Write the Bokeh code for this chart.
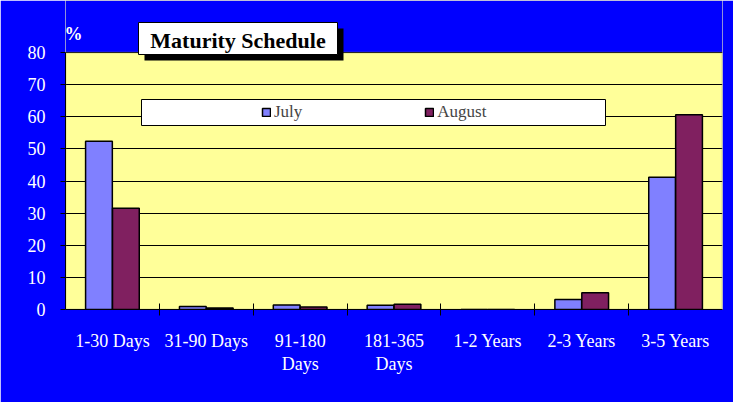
from bokeh.plotting import figure
from bokeh.models import (FactorRange, Range1d, CategoricalAxis, BoxAnnotation,
                          Label, Legend, LegendItem, ColumnDataSource, FixedTicker)
from bokeh.transform import dodge
from bokeh.embed import file_html
from bokeh.resources import INLINE

# ---- data ----
categories = ["1-30 Days", "31-90 Days", "91-180\nDays", "181-365\nDays",
              "1-2 Years", "2-3 Years", "3-5 Years"]
july = [52.4, 0.9, 1.4, 1.3, 0.0, 3.1, 41.2]
august = [31.5, 0.5, 0.8, 1.6, 0.0, 5.2, 60.6]
series_names = ["July", "August"]
y_ticks = [0, 10, 20, 30, 40, 50, 60, 70, 80]
y_max = 80
title_text = "Maturity Schedule"
unit_text = "%"

BLUE = "#0000FF"
FONT = "Liberation Serif"

W, H = 733, 402
FL, FR, FB = 65, 722, 309          # plot-area edges in canvas px
PLOT_TOP = 52                       # canvas px of y = 80
px_per_unit = (FB - PLOT_TOP) / y_max
y_top = y_max + PLOT_TOP / px_per_unit   # frame reaches the canvas top

src = ColumnDataSource(dict(cat=categories, july=july, august=august))

p = figure(width=W, height=H, x_range=FactorRange(*categories, range_padding=0),
           y_range=Range1d(0, y_top), output_backend="svg", toolbar_location=None,
           x_axis_location=None,
           min_border_left=FL, min_border_right=W - FR, min_border_top=0,
           min_border_bottom=H - FB)
bound_factors = ["b%d" % i for i in range(len(categories) + 1)]
p.extra_x_ranges = {"bound": FactorRange(*bound_factors, range_padding=-0.5,
                                         range_padding_units="absolute")}

p.border_fill_color = BLUE
p.background_fill_color = "#FFFF99"
p.outline_line_color = None

# blue area above the plot area (inside the frame)
p.add_layout(BoxAnnotation(bottom=y_max, fill_color=BLUE, fill_alpha=1, line_alpha=0,
                           level="image"))

# bars
r1 = p.vbar(x=dodge("cat", -0.1435, range=p.x_range), top="july", width=0.285, source=src,
            fill_color="#8080FF", line_color="black", line_width=1.5)
r2 = p.vbar(x=dodge("cat", 0.1435, range=p.x_range), top="august", width=0.285, source=src,
            fill_color="#802060", line_color="black", line_width=1.5)

# grid
p.xgrid.visible = False
p.ygrid.ticker = FixedTicker(ticks=y_ticks)
p.ygrid.grid_line_color = "black"
p.ygrid.grid_line_width = 1

# plot-area border (grey, top/right)
p.add_layout(BoxAnnotation(bottom=0, top=y_max, fill_alpha=0, line_color="#808080",
                           line_width=2, level="underlay"))

# y axis
ya = p.yaxis[0]
ya.ticker = FixedTicker(ticks=y_ticks)
ya.bounds = (0, y_max)
ya.major_label_text_color = "white"
ya.major_label_text_font = FONT
ya.major_label_text_font_size = "18px"
ya.major_tick_in = 0
ya.major_tick_out = 5
ya.major_tick_line_color = "black"
ya.minor_tick_line_color = None
ya.axis_line_color = "black"
ya.major_label_standoff = 15

# boundary ticks axis (closest to the plot area)
ba = CategoricalAxis(x_range_name="bound", major_tick_in=6, major_tick_out=6,
                     major_tick_line_color="black", minor_tick_line_color=None,
                     axis_line_color="black", major_label_text_color=None,
                     major_label_text_font_size="1px", major_label_standoff=0)
p.add_layout(ba, "below")

# categorical x axis: labels only
xa = CategoricalAxis(major_label_text_color="white", major_label_text_font=FONT,
                     major_label_text_font_size="18px", major_label_text_line_height=1.15,
                     major_tick_line_color=None, major_tick_in=0, major_tick_out=0,
                     axis_line_color=None, minor_tick_line_color=None,
                     major_label_standoff=15)
p.add_layout(xa, "below")

def box(l, r, t, b, fill, line=None, lw=1):
    bx = BoxAnnotation(left=l, right=r, top=t, bottom=b,
                       left_units="canvas", right_units="canvas",
                       top_units="canvas", bottom_units="canvas",
                       fill_color=fill, fill_alpha=1, line_color=line, line_width=lw,
                       line_alpha=1 if line else 0)
    p.add_layout(bx)
    return bx

def label(x, y, text, size, color, bold=False):
    p.add_layout(Label(x=x, y=y, x_units="canvas", y_units="canvas", text=text,
                       text_font=FONT, text_font_style="bold" if bold else "normal",
                       text_font_size=size, text_align="center",
                       text_baseline="middle", text_color=color))

# title box with shadow
box(144, 343, 28, 60, "black")
box(138, 337, 22, 54, "white", "black", 1)
label(237.5, 39.5, title_text, "22px", "black", bold=True)

# unit label
label(73, 33, unit_text, "18px", "white", bold=True)

# legend box
box(141, 605, 99, 125, "white", "black", 1)
legend = Legend(items=[LegendItem(label=series_names[0], renderers=[r1]),
                       LegendItem(label=series_names[1], renderers=[r2])],
                orientation="horizontal", location=(196, 187), padding=0, margin=0,
                spacing=122, glyph_width=10, glyph_height=10, label_standoff=3,
                label_height=10, label_text_font=FONT, label_text_font_size="17px",
                background_fill_alpha=0, border_line_color=None)
p.add_layout(legend, "center")

open("out.html", "w").write(file_html(p, INLINE))
